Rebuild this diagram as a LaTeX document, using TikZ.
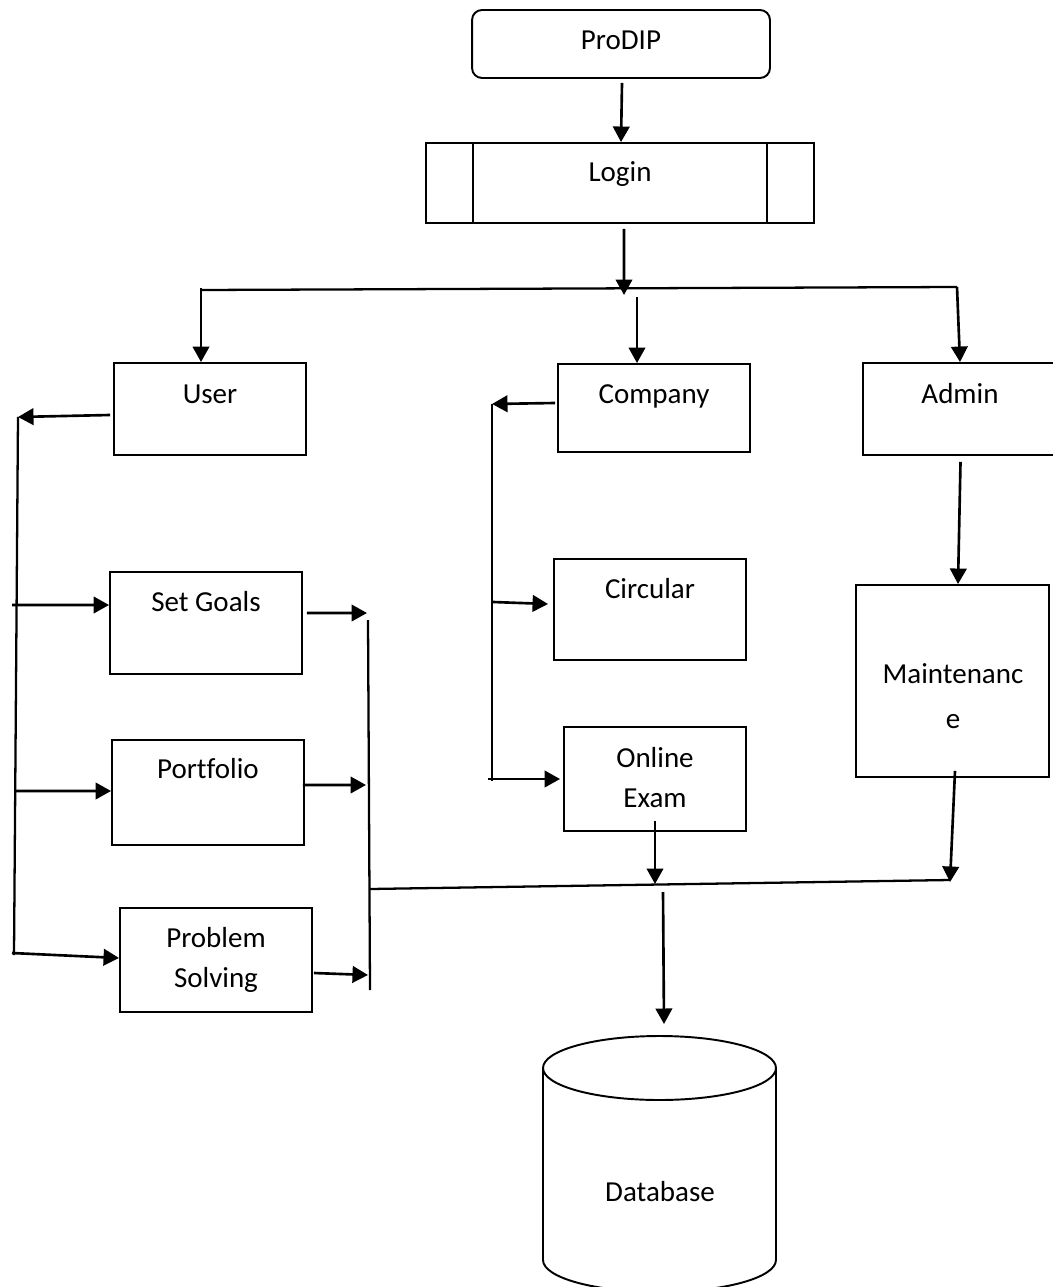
\documentclass[tikz,border=0pt]{standalone}
\usepackage{fontspec}
\setmainfont{Carlito}[Ligatures=NoCommon]
\usetikzlibrary{arrows.meta}
\begin{document}
\begin{tikzpicture}[x=0.02cm,y=-0.02cm,
  bx/.style={draw=black,line width=1.1pt,rectangle,inner sep=0pt},
  ln/.style={draw=black,line width=1.3pt},
  arr/.style={draw=black,line width=1.5pt,-{Triangle[length=0.31cm,width=0.33cm]}},
  lbl/.style={anchor=base,inner sep=0pt,font=\fontsize{16.5}{20}\selectfont}]
\fill[white] (0,0) rectangle (1053,1287);
\useasboundingbox (0,0) rectangle (1053,1287);
% boxes
\node[bx,rounded corners=0.2cm,minimum width=5.96cm,minimum height=1.36cm] (prodip) at (621,44) {};
\node[bx,minimum width=7.76cm,minimum height=1.6cm] (login) at (620,183) {};
\draw[line width=1.1pt] (473,143) -- (473,223) (767,143) -- (767,223);
\node[bx,minimum width=3.84cm,minimum height=1.84cm] (user) at (210,409) {};
\node[bx,minimum width=3.84cm,minimum height=1.76cm] (company) at (654,408) {};
\node[bx,minimum width=3.94cm,minimum height=1.84cm] (admin) at (961.5,409) {};
\node[bx,minimum width=3.86cm,minimum height=3.84cm] (maint) at (952.5,681) {};
\node[bx,minimum width=3.84cm,minimum height=2.04cm] (setgoals) at (206,623) {};
\node[bx,minimum width=3.84cm,minimum height=2.1cm] (portfolio) at (208,792.5) {};
\node[bx,minimum width=3.84cm,minimum height=2.08cm] (problem) at (216,960) {};
\node[bx,minimum width=3.84cm,minimum height=2.02cm] (circular) at (650,609.5) {};
\node[bx,minimum width=3.64cm,minimum height=2.08cm] (online) at (655,779) {};
% database cylinder
\draw[line width=1.1pt] (659.5,1068) ellipse [x radius=2.33cm, y radius=0.64cm];
\draw[line width=1.1pt] (543,1068) -- (543,1260) arc[start angle=180,end angle=360,x radius=2.33cm,y radius=0.64cm] -- (776,1068);
% labels
\node[lbl] (tprodip) at (621,50) {ProDIP};
\node[lbl] (tlogin) at (620,182) {Login};
\node[lbl] (tuser) at (210,403) {User};
\node[lbl] (tcompany) at (654,403) {Company};
\node[lbl] (tadmin) at (960,403) {Admin};
\node[lbl] (tmaint1) at (953,683) {Maintenanc};
\node[lbl] (tmaint2) at (953,728) {e};
\node[lbl] (tset) at (206,611) {Set Goals};
\node[lbl] (tport) at (208,778) {Portfolio};
\node[lbl] (tprob1) at (216,947) {Problem};
\node[lbl] (tprob2) at (216,987) {Solving};
\node[lbl] (tcirc) at (650,598) {Circular};
\node[lbl] (tonl1) at (655,767) {Online};
\node[lbl] (tonl2) at (655,807) {Exam};
\node[lbl] (db) at (660,1201) {Database};
% coordinates
\coordinate (busL) at (201,290);
\coordinate (busR) at (957,287);
\coordinate (j1) at (624,295);
\coordinate (compTop) at (637,297);
\coordinate (uL) at (18,417);
\coordinate (uB) at (14,955);
\coordinate (sgL) at (12,605);
\coordinate (pfL) at (15,791);
\coordinate (psL) at (12,953);
\coordinate (rs1) at (367,613);
\coordinate (rs2) at (366,785);
\coordinate (rs3) at (368,975);
\coordinate (rT) at (368,620);
\coordinate (rB) at (370,990);
\coordinate (bL) at (370,889);
\coordinate (bR) at (950,880);
\coordinate (ob) at (655,884);
\coordinate (mb) at (950,882);
\coordinate (dbIn) at (663,892);
\coordinate (dbTop) at (664,1024);
\coordinate (cL) at (492,404);
\coordinate (cB) at (492,781);
\coordinate (ccL) at (493,602);
\coordinate (coL) at (488,779);
% connectors
\draw[arr] ([xshift=0.02cm,yshift=-0.08cm]prodip.south) -- ([xshift=0.02cm]login.north);
\draw[arr] ([xshift=0.08cm,yshift=-0.1cm]login.south) -- (j1);
\draw[ln] (busL) -- (busR);
\draw[arr] ([yshift=0.04cm]busL) -- (busL |- user.north);
\draw[arr] (compTop) -- (compTop |- company.north);
\draw[arr] (busR) -- ([xshift=-0.03cm]admin.north);
\draw[arr] ([xshift=-0.02cm,yshift=-0.12cm]admin.south) -- ([xshift=0.11cm]maint.north);
% user branch
\draw[arr] ([xshift=-0.06cm,yshift=-0.12cm]user.west) -- (uL);
\draw[ln] (uL) -- (uB);
\draw[arr] (sgL) -- ([yshift=0.36cm]setgoals.west);
\draw[arr] (pfL) -- ([yshift=0.03cm]portfolio.west);
\draw[arr] (psL) -- ([yshift=0.04cm]problem.west);
\draw[arr] ([xshift=0.08cm,yshift=0.2cm]setgoals.east) -- (rs1);
\draw[arr] ([xshift=-0.04cm,yshift=0.15cm]portfolio.east) -- (rs2);
\draw[arr] ([xshift=0.02cm,yshift=-0.26cm]problem.east) -- (rs3);
\draw[ln] (rT) -- (rB);
\draw[ln] (bL) -- (bR);
% company branch
\draw[arr] ([xshift=-0.04cm,yshift=0.1cm]company.west) -- (cL);
\draw[ln] (cL) -- (cB);
\draw[arr] (ccL) -- ([xshift=-0.1cm,yshift=0.11cm]circular.west);
\draw[arr] (coL) -- ([xshift=-0.06cm]online.west);
\draw[arr] ([yshift=0.22cm]online.south) -- (ob);
\draw[arr] ([xshift=0.05cm,yshift=0.14cm]maint.south) -- (mb);
\draw[arr] (dbIn) -- (dbTop);
\end{tikzpicture}
\end{document}
